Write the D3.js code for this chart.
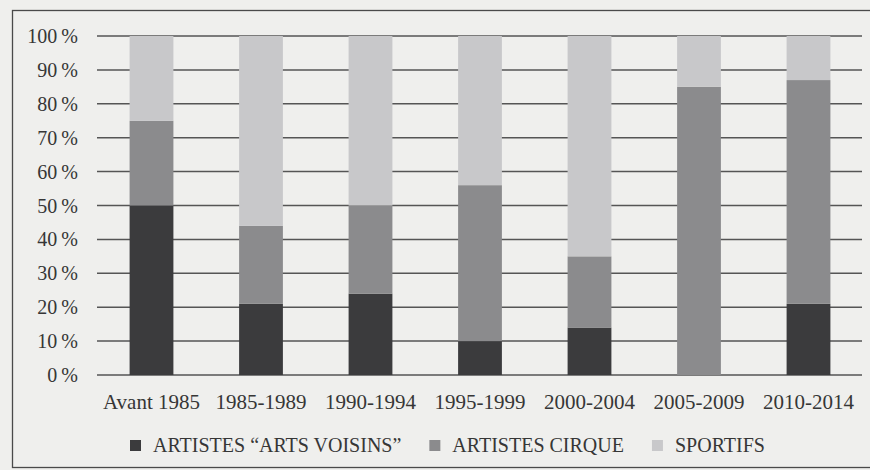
<!DOCTYPE html>
<html>
<head>
<meta charset="utf-8">
<script src="https://cdn.jsdelivr.net/npm/d3@7"></script>
<style>
  body { margin: 0; background: #efefed; }
  svg { display: block; }
</style>
</head>
<body>
<svg></svg>
<script>
const width = 870;
const height = 470;
const font = "'Liberation Serif', 'Times New Roman', serif";
const textColor = "#363636";

// Data (percent of each period)
const periods = ["Avant 1985", "1985-1989", "1990-1994", "1995-1999", "2000-2004", "2005-2009", "2010-2014"];
const artsVoisins = [50, 21, 24, 10, 14, 0, 21];
const cirque = [25, 23, 26, 46, 21, 85, 66];
const sportifs = [25, 56, 50, 44, 65, 15, 13];
const seriesNames = ["ARTISTES \u201CARTS VOISINS\u201D", "ARTISTES CIRQUE", "SPORTIFS"];
const seriesColors = ["#3b3b3d", "#8b8b8d", "#c8c8ca"];
const yTicks = [0, 10, 20, 30, 40, 50, 60, 70, 80, 90, 100];

const svg = d3.select("svg")
    .attr("width", width)
    .attr("height", height);

// frame
svg.append("rect")
    .attr("x", 12.5).attr("y", 10.5)
    .attr("width", 900).attr("height", 457)
    .attr("fill", "none")
    .attr("stroke", "#4a4a4a")
    .attr("stroke-width", 1.3);

const x = d3.scaleBand()
    .domain(periods)
    .range([96.75, 863.25])
    .paddingInner(0.6)
    .paddingOuter(0.3);

const y = d3.scaleLinear()
    .domain([0, 100])
    .range([375, 36]);

// gridlines
svg.append("g")
    .selectAll("line")
    .data(yTicks)
    .enter().append("line")
    .attr("x1", 97)
    .attr("x2", 862)
    .attr("y1", d => y(d))
    .attr("y2", d => y(d))
    .attr("stroke", "#555")
    .attr("stroke-width", 1.5);

// y labels
svg.append("g")
    .selectAll("text")
    .data(yTicks)
    .enter().append("text")
    .attr("x", 78)
    .attr("y", d => y(d))
    .attr("dy", "0.35em")
    .attr("text-anchor", "end")
    .style("font-family", font)
    .style("font-size", "20px")
    .style("fill", textColor)
    .text(d => d + "\u2009%");

// stacked bars
const table = periods.map((p, i) => ({ period: p, a: artsVoisins[i], c: cirque[i], s: sportifs[i] }));
const stack = d3.stack().keys(["a", "c", "s"]);
const layers = stack(table);

svg.append("g")
    .selectAll("g")
    .data(layers)
    .enter().append("g")
    .attr("fill", (d, i) => seriesColors[i])
    .selectAll("rect")
    .data(d => d)
    .enter().append("rect")
    .attr("x", d => x(d.data.period))
    .attr("width", x.bandwidth())
    .attr("y", d => y(d[1]))
    .attr("height", d => y(d[0]) - y(d[1]));

// x labels
svg.append("g")
    .selectAll("text")
    .data(periods)
    .enter().append("text")
    .attr("x", d => x(d) + x.bandwidth() / 2)
    .attr("y", 409)
    .attr("text-anchor", "middle")
    .style("font-family", font)
    .style("font-size", "21px")
    .style("fill", textColor)
    .text(d => d);

// legend
const legend = svg.append("g");
let lx = 130;
seriesNames.forEach((name, i) => {
    legend.append("rect")
        .attr("x", lx)
        .attr("y", 440)
        .attr("width", 11)
        .attr("height", 11)
        .attr("fill", seriesColors[i]);
    const t = legend.append("text")
        .attr("x", lx + 23)
        .attr("y", 452)
        .style("font-family", font)
        .style("font-size", "20px")
        .style("fill", textColor)
        .text(name);
    lx += 23 + t.node().getComputedTextLength() + 28;
});
</script>
</body>
</html>
